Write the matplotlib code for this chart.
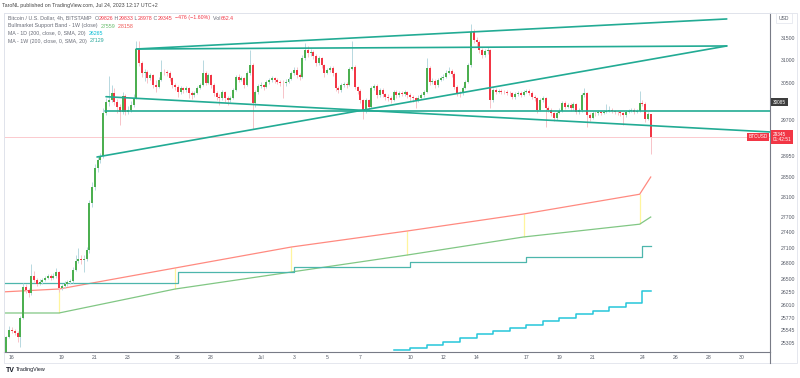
import numpy as np
import pandas as pd
import matplotlib
matplotlib.use("Agg")
import matplotlib.pyplot as plt
import matplotlib.dates as mdates
import matplotlib.transforms as mtrans
from matplotlib.patches import Rectangle
from matplotlib.lines import Line2D
from matplotlib.ticker import NullLocator

W, H = 800, 378
plt.rcParams["font.family"] = ["Liberation Sans", "DejaVu Sans"]

# ---- BTCUSD 4h candles, Jun 15 16:00 -> Jul 24 12:00 (one row per day) ----
first_open = 25120
closes = [
    25416, 25544,
    25526, 25489, 25416, 25764, 26344, 26288,   # Jun 16
    26231, 26553, 26477, 26401, 26439, 26477,
    26515, 26553, 26515, 26553, 26630, 26325,
    26363, 26401, 26439, 26458, 26668, 26841,
    26879, 26860, 26879, 27053, 27981, 28305,   # Jun 20
    28694, 28859, 28941, 29849, 30086, 30129,
    30281, 30086, 29978, 29870, 30216, 29870,
    29913, 30021, 30172, 31252, 30940, 30719,
    30741, 30608, 30675, 30455, 30411, 30564,
    30741, 30730, 30719, 30608, 30455, 30411,   # Jun 25
    30303, 30390, 30346, 30390, 30281, 30238,
    30281, 30390, 30455, 30719, 30499, 30675,
    30455, 30281, 30194, 30172, 30303, 30172,
    30129, 30172, 30346, 30631, 30564, 30608,
    30455, 30719, 30896, 30064, 30303, 30433,   # Jun 30
    30455, 30411, 30521, 30564, 30608, 30564,
    30521, 30499, 30490, 30521, 30586, 30719,
    30785, 30675, 30631, 31051, 31230, 31163,
    31185, 31096, 30940, 31051, 30896, 30719,
    30785, 30829, 30719, 30390, 30346, 30455,   # Jul 5
    30477, 30455, 30807, 30851, 30411, 30324,
    30129, 29892, 30129, 29978, 30390, 30433,
    30238, 30346, 30259, 30194, 30172, 30129,
    30303, 30238, 30281, 30259, 30303, 30238,
    30194, 30172, 30129, 30172, 30238, 30303,   # Jul 10
    30829, 30521, 30543, 30455, 30564, 30608,
    30631, 30719, 30763, 30697, 30411, 30281,
    30270, 30390, 30521, 30896, 31636, 31455,
    31410, 31230, 31118, 31207, 31230, 30129,
    30346, 30303, 30324, 30303, 30295, 30281,   # Jul 15
    30270, 30194, 30259, 30281, 30238, 30303,
    30324, 30281, 30194, 30172, 29913, 30129,
    30172, 29956, 29913, 29849, 29742, 29849,
    29892, 30064, 29978, 30021, 29956, 30042,
    29870, 29913, 30238, 30281, 29806, 29742,   # Jul 20
    29849, 29840, 29870, 29849, 29870, 29892,
    29913, 29892, 29870, 29865, 29849, 29806,
    29870, 29892, 29913, 29870, 29892, 30064,
    30042, 29721, 29826, 29345,
]
highs = [
    25440, 25610,
    25600, 25560, 25520, 25800, 26420, 26400,
    26330, 26780, 26640, 26520, 26490, 26520,
    26560, 26600, 26590, 26610, 26700, 26650,
    26410, 26450, 26480, 26500, 26720, 26960,
    27100, 26950, 26950, 27120, 28050, 28400,
    28770, 28950, 29000, 29950, 30180, 30650,
    30450, 30400, 30150, 30050, 30300, 30260,
    30000, 30100, 30250, 31440, 31430, 30980,
    30800, 30780, 30720, 30700, 30560, 30620,
    31000, 30800, 30780, 30760, 30640, 30500,
    30460, 30430, 30420, 30440, 30420, 30320,
    30330, 30430, 30500, 31000, 30760, 30720,
    30700, 30500, 30320, 30260, 30340, 30330,
    30220, 30220, 30400, 30680, 30700, 30660,
    30640, 30760, 31230, 30950, 30350, 30480,
    30520, 30480, 30570, 30610, 30650, 30640,
    30600, 30560, 30560, 30580, 30640, 30770,
    30850, 30840, 30720, 31120, 31380, 31330,
    31260, 31230, 31130, 31100, 31080, 30920,
    30830, 30880, 30880, 30740, 30440, 30500,
    30520, 30520, 30860, 31440, 30900, 30440,
    30360, 30150, 30180, 30160, 30430, 30480,
    30470, 30400, 30380, 30290, 30250, 30220,
    30350, 30340, 30330, 30320, 30350, 30330,
    30270, 30240, 30200, 30230, 30290, 30350,
    31050, 30870, 30600, 30590, 30610, 30660,
    30690, 30780, 30850, 30800, 30740, 30450,
    30330, 30440, 30570, 30950, 31820, 31700,
    31520, 31460, 31280, 31260, 31290, 31260,
    30400, 30390, 30370, 30360, 30350, 30340,
    30320, 30300, 30300, 30330, 30320, 30350,
    30370, 30360, 30320, 30230, 30200, 30180,
    30220, 30200, 30000, 29950, 29880, 29900,
    29950, 30100, 30100, 30070, 30060, 30090,
    30070, 29960, 30290, 30400, 30310, 29850,
    29900, 29890, 29920, 29900, 29920, 30050,
    30000, 29950, 29920, 29910, 29900, 29870,
    29910, 29940, 29960, 29950, 29940, 30330,
    30120, 30080, 29870, 29833,
]
lows = [
    24980, 25390,
    25480, 25450, 25330, 25230, 25740, 26230,
    26150, 26200, 26440, 26360, 26380, 26410,
    26450, 26490, 26480, 26490, 26520, 26250,
    26280, 26330, 26370, 26400, 26420, 26640,
    26800, 26780, 26620, 26840, 27000, 27900,
    28250, 28620, 28800, 28900, 29800, 30000,
    30080, 30020, 29850, 29600, 29820, 29800,
    29820, 29880, 29980, 30150, 30880, 30620,
    30550, 30500, 30560, 30380, 30300, 30380,
    30540, 30680, 30660, 30550, 30380, 30340,
    30200, 30260, 30280, 30300, 30170, 30150,
    30200, 30250, 30360, 30430, 30460, 30470,
    30400, 30220, 30120, 30030, 30130, 30080,
    30010, 30080, 30140, 30320, 30520, 30540,
    30380, 30430, 30680, 29500, 29980, 30260,
    30380, 30350, 30380, 30480, 30520, 30500,
    30470, 30430, 30180, 30440, 30490, 30560,
    30680, 30600, 30560, 30600, 31000, 31080,
    31100, 31020, 30880, 30900, 30820, 30640,
    30690, 30740, 30660, 30330, 30280, 30310,
    30410, 30400, 30430, 30780, 30360, 30260,
    30060, 29710, 29850, 29900, 29950, 30340,
    30180, 30200, 30200, 30120, 30110, 30060,
    30100, 30180, 30200, 30210, 30220, 30170,
    30100, 30080, 29950, 30090, 30140, 30200,
    30280, 30460, 30470, 30400, 30420, 30540,
    30570, 30600, 30690, 30640, 30360, 30220,
    30200, 30240, 30360, 30490, 30860, 31380,
    31300, 31160, 31050, 31080, 31150, 29960,
    30080, 30260, 30280, 30260, 30250, 30230,
    30220, 30150, 30150, 30220, 30190, 30210,
    30280, 30240, 30140, 30110, 29850, 29890,
    30080, 29560, 29860, 29790, 29680, 29700,
    29820, 29860, 29930, 29950, 29900, 29920,
    29820, 29830, 29880, 30200, 29560, 29680,
    29710, 29790, 29810, 29800, 29820, 29840,
    29860, 29840, 29820, 29810, 29790, 29600,
    29770, 29840, 29860, 29820, 29840, 29860,
    29990, 29650, 29690, 28978,
]

# Bull market support band (weekly), sampled at the last bar of each week
band_t = ["2023-06-11 20:00", "2023-06-18 20:00", "2023-06-25 20:00", "2023-07-02 20:00",
          "2023-07-09 20:00", "2023-07-16 20:00", "2023-07-23 20:00", "2023-07-24 12:00"]
band_ema = [26193, 26306, 26706, 27111, 27425, 27761, 28158, 28508]
band_sma = [25857, 25857, 26306, 26629, 26956, 27307, 27559, 27701]

# MA 200 from 1W and 1D timeframes
ma1w_t = ["2023-06-12", "2023-06-19", "2023-06-26", "2023-07-03", "2023-07-10",
          "2023-07-17", "2023-07-24", "2023-07-24 12:00"]
ma1w_v = [26420, 26420, 26629, 26725, 26821, 26917, 27129, 27129]
ma1d_t = ["2023-07-09", "2023-07-10", "2023-07-11", "2023-07-12", "2023-07-13", "2023-07-14",
          "2023-07-15", "2023-07-16", "2023-07-17", "2023-07-18", "2023-07-19", "2023-07-20",
          "2023-07-21", "2023-07-22", "2023-07-23", "2023-07-24", "2023-07-24 12:00"]
ma1d_v = [25180, 25216, 25270, 25325, 25397, 25470, 25525, 25580, 25635, 25709, 25765,
          25839, 25895, 25969, 26044, 26265, 26265]

# drawn trend lines: (start date, price), (end date, price)
trend_lines = [
    (("2023-06-23 12:00", 31252), ("2023-07-29 02:00", 31933)),
    (("2023-06-23 12:00", 31252), ("2023-07-29 02:00", 31320)),
    (("2023-06-21 03:00", 28921), ("2023-07-29 02:00", 31320)),
    (("2023-06-21 16:00", 30200), ("2023-07-31 18:00", 29444)),
    (("2023-06-21 15:00", 29892), ("2023-07-31 18:00", 29892)),
]

last_price = 29345
mark_price = 30085
yticks = [31500, 31000, 30500, 29700, 28950, 28500, 28100, 27700, 27400, 27100,
          26800, 26500, 26250, 26010, 25770, 25545, 25305]
xtick_dates = ["2023-06-16", "2023-06-19", "2023-06-21", "2023-06-23", "2023-06-26",
               "2023-06-28", "2023-07-01", "2023-07-03", "2023-07-05", "2023-07-07",
               "2023-07-10", "2023-07-12", "2023-07-14", "2023-07-17", "2023-07-19",
               "2023-07-21", "2023-07-24", "2023-07-26", "2023-07-28", "2023-07-30"]
xtick_labels = ["16", "19", "21", "23", "26", "28", "Jul", "3", "5", "7",
                "10", "12", "14", "17", "19", "21", "24", "26", "28", "30"]

GREEN, RED, TEAL = "#4caf50", "#f23645", "#22ab94"
GRAY, DARK = "#6a6d78", "#131722"

def dn(s):
    return mdates.date2num(pd.Timestamp(s))

t = mdates.date2num(pd.date_range("2023-06-15 16:00", periods=len(closes), freq="4h").to_pydatetime())
c = np.array(closes, float)
o = np.r_[first_open, c[:-1]]
hi, lo = np.array(highs, float), np.array(lows, float)
up = c >= o

fig = plt.figure(figsize=(W / 100, H / 100), dpi=100)
ax = fig.add_axes([4 / W, 1 - 352 / H, 766 / W, 339 / H])
ax.set_yscale("log")
ax.set_ylim(25143, 32070)
ax.set_xlim(dn("2023-06-15 12:26"), dn("2023-07-31 16:33"))

# indicators
ax.plot([dn(s) for s in band_t], band_ema, color="#ff8a80", lw=0.9, zorder=2)
ax.plot([dn(s) for s in band_t], band_sma, color="#81c784", lw=0.9, zorder=2)
ax.vlines([dn(s) for s in band_t[1:7]], band_sma[1:7], band_ema[1:7], color="#fff59d", lw=0.9, zorder=1)
ax.step([dn(s) for s in ma1w_t], ma1w_v, where="post", color="#4db6ac", lw=0.9, zorder=2)
ax.step([dn(s) for s in ma1d_t], ma1d_v, where="post", color="#26c6da", lw=1.1, zorder=2)

ax.axhline(last_price, color=RED, lw=0.6, alpha=0.3, zorder=1)

# candles
ax.vlines(t, lo, hi, colors=np.where(up, "#b7d8e0", "#f7c3c8"), lw=0.7, zorder=3)
ax.bar(t, np.maximum(np.abs(c - o), 8), bottom=np.minimum(o, c), width=0.12,
       color=np.where(up, GREEN, RED), lw=0, zorder=4)

for (d0, p0), (d1, p1) in trend_lines:
    ax.plot([dn(d0), dn(d1)], [p0, p1], color=TEAL, lw=1.2, zorder=5, solid_capstyle="round")

# axes styling
ax.yaxis.tick_right()
ax.yaxis.set_minor_locator(NullLocator())
ax.set_yticks(yticks)
ax.set_yticklabels([str(v) for v in yticks])
ax.set_xticks([dn(s) for s in xtick_dates])
ax.set_xticklabels(xtick_labels)
ax.tick_params(axis="both", length=0, labelsize=3.7, labelcolor="#555a66")
ax.tick_params(axis="y", pad=8)
ax.tick_params(axis="x", pad=2.5)
for sp in ["top", "left"]:
    ax.spines[sp].set_color("#e0e3eb")
    ax.spines[sp].set_linewidth(0.6)
for sp in ["right", "bottom"]:
    ax.spines[sp].set_color("#787b86")
    ax.spines[sp].set_linewidth(0.8)

blend = mtrans.blended_transform_factory(ax.transAxes, ax.transData)
ax.text(0.997, last_price, "BTCUSD", transform=blend, ha="right", va="center", fontsize=3.4,
        color="white", zorder=6, bbox=dict(fc=RED, ec="none", boxstyle="square,pad=0.35"))
ax.text(1.004, last_price, "29345\n01:42:51", transform=blend, ha="left", va="center", fontsize=3.4,
        color="white", linespacing=1.1, clip_on=False, zorder=6,
        bbox=dict(fc=RED, ec="none", boxstyle="square,pad=0.35"))
ax.text(1.004, mark_price, "30085", transform=blend, ha="left", va="center", fontsize=3.4,
        color="white", clip_on=False, zorder=6,
        bbox=dict(fc="#3d3d3d", ec="none", boxstyle="square,pad=0.35"))

# frame around the chart and axis areas
fig.add_artist(Rectangle((4 / W, 1 - 363 / H), 793 / W, 350 / H, transform=fig.transFigure,
                         fill=False, ec="#e0e3eb", lw=0.6))
fig.add_artist(Line2D([770 / W, 770 / W], [1 - 363 / H, 1 - 352 / H], transform=fig.transFigure,
                      color="#787b86", lw=0.8))
fig.text(784 / W, 1 - 18 / H, "USD", ha="center", va="center", fontsize=3.6, color="#555a66",
         bbox=dict(fc="white", ec="#e0e3eb", lw=0.5, boxstyle="square,pad=0.5"))

# legend rows
renderer = fig.canvas.get_renderer()

def text_row(parts, x0, y0, size=3.8):
    x = x0
    for s, col in parts:
        tt = fig.text(x / W, 1 - y0 / H, s, color=col, fontsize=size, ha="left", va="center")
        x = tt.get_window_extent(renderer=renderer).x1

text_row([("TaroNL published on TradingView.com, Jul 24, 2023 12:17 UTC+2", "#444")], 2, 6)
text_row([("Bitcoin / U.S. Dollar, 4h, BITSTAMP  ", GRAY), ("O", GRAY), ("29826", RED),
          (" H", GRAY), ("29833", RED), (" L", GRAY), ("28978", RED), (" C", GRAY),
          ("29345", RED), ("  \u2212476 (\u22121.60%)", RED), ("  Vol", GRAY), ("662.4", RED)], 8, 18)
text_row([("Bullmarket Support Band - 1W (close)  ", GRAY), ("27559", "#66bb6a"),
          ("  28158", "#ef5350")], 8, 26)
text_row([("MA - 1D (200, close, 0, SMA, 20)  ", GRAY), ("26265", "#00bcd4")], 8, 33.5)
text_row([("MA - 1W (200, close, 0, SMA, 20)  ", GRAY), ("27129", "#26a69a")], 8, 41)

# TradingView mark
fig.text(6 / W, 1 - 370 / H, "TV", fontsize=5, fontweight="bold", color=DARK, ha="left", va="center")
fig.text(16 / W, 1 - 370 / H, "TradingView", fontsize=3.9, color=DARK, ha="left", va="center")

fig.savefig("out.png", dpi=100)
